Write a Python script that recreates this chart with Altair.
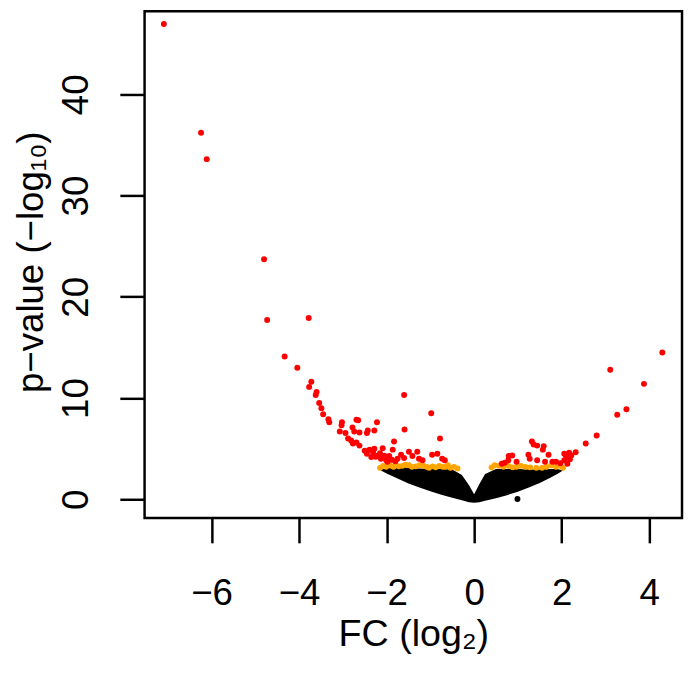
import altair as alt
import pandas as pd

# ---- data ----
# envelope of the dense black (non-significant) cloud
cloud_fc     = [-2.15, -2.0, -1.75, -1.5, -1.25, -1.0, -0.75, -0.5, -0.28, -0.12, 0.0, 0.12, 0.25, 0.5, 0.75, 1.0, 1.25, 1.5, 1.75, 1.9, 2.03]
cloud_top    = [2.9, 3.1, 3.15, 3.1, 3.05, 3.0, 3.0, 2.95, 2.4, 1.4, 0.5, 1.5, 2.5, 3.0, 3.0, 3.0, 2.95, 2.95, 3.0, 3.0, 2.85]
cloud_bottom = [2.9, 2.55, 2.05, 1.55, 1.15, 0.8, 0.45, 0.15, -0.1, -0.3, -0.35, -0.3, -0.15, 0.1, 0.4, 0.75, 1.15, 1.6, 2.15, 2.5, 2.85]

black_fc = [0.99]
black_p  = [0.03]

orange_fc = [-2.15, -2.08, -2.01, -1.95, -1.90, -1.84, -1.79, -1.72, -1.64, -1.57, -1.49, -1.42, -1.33,
             -1.25, -1.15, -1.08, -1.03, -0.95, -0.88, -0.80, -0.72, -0.66, -0.60, -0.54, -0.46, -0.38,
             0.40, 0.47, 0.57, 0.67, 0.78, 0.88, 0.97, 1.07, 1.17, 1.28, 1.42, 1.55, 1.65, 1.76, 1.87, 1.97, 2.03]
orange_p  = [3.1, 3.3, 3.2, 3.4, 3.3, 3.2, 3.35, 3.25, 3.3, 3.4, 3.35, 3.2, 3.25,
             3.35, 3.3, 3.2, 3.1, 3.25, 3.15, 3.3, 3.2, 3.2, 3.35, 3.1, 3.2, 3.05,
             3.15, 3.35, 3.3, 3.2, 3.3, 3.15, 3.2, 3.3, 3.2, 3.15, 3.1, 3.1, 3.2, 3.35, 3.2, 3.3, 3.1]

red_fc = [-7.09, -6.24, -6.11, -4.80, -4.73, -3.78, -4.33, -4.04, -3.72, -3.77, -3.60, -3.62, -3.54, -3.49,
          -3.45, -3.33, -3.31, -1.60, -0.98, -3.02, -3.03, -2.69, -2.65, -2.22, -2.78, -2.74, -3.07, -2.94,
          -2.62, -2.43, -2.28, -2.45, -1.59, -2.88, -2.81, -2.69, -2.77, -2.62, -0.78, -1.83, -1.86, -2.50,
          -2.39, -2.31, -2.28, -2.09, -2.20, -2.35, -2.13, -2.01, -1.94, -1.67, -1.49, -1.30, -1.41, -1.60,
          -1.26, -1.18, -0.96, -0.84, -0.73, -0.67, -1.75, -2.45, -2.25, -2.15, -2.05, -1.98, -1.88, -1.80,
          4.30, 3.11, 3.88, 3.48, 3.27, 2.80, 2.55, 1.32, 1.36, 1.44, 1.59, 1.57, 1.70, 1.24, 1.27, 0.79,
          0.87, 0.78, 0.63, 0.70, 0.97, 1.44, 1.62, 1.79, 2.06, 2.10, 2.17, 2.22, 2.32, 2.19, 2.06, 2.13,
          1.97, 1.87]
red_p  = [46.95, 36.2, 33.6, 23.7, 17.7, 17.9, 14.1, 13.0, 11.6, 11.1, 10.6, 10.3, 9.5, 9.0,
          8.4, 7.9, 7.6, 10.3, 8.5, 7.6, 7.3, 7.85, 7.8, 7.6, 7.1, 6.7, 6.7, 6.55,
          6.6, 6.8, 6.8, 6.55, 6.9, 6.0, 5.8, 5.6, 5.5, 5.3, 6.0, 5.7, 4.9, 4.8,
          4.9, 4.65, 5.0, 5.05, 4.33, 4.17, 4.0, 3.85, 4.27, 4.4, 4.7, 4.7, 4.27, 4.07,
          4.0, 3.85, 4.4, 4.5, 4.0, 3.85, 4.0, 4.5, 4.2, 4.55, 4.3, 3.7, 3.9, 3.75,
          14.5, 12.8, 11.4, 8.9, 8.35, 6.3, 5.5, 5.7, 5.4, 5.3, 5.25, 4.9, 4.4, 4.4, 4.0, 4.27,
          4.33, 3.85, 3.5, 3.6, 3.7, 3.85, 3.7, 3.7, 4.5, 4.27, 4.6, 4.33, 4.65, 3.94, 3.85, 3.5,
          3.55, 3.7]

x_ticks = [-6, -4, -2, 0, 2, 4]
y_ticks = [0, 10, 20, 30, 40]
x_domain = [-7.53, 4.75]
y_domain = [-1.86, 48.2]

FONT = "Liberation Sans"

cloud_df = pd.DataFrame({"fc": cloud_fc, "top": cloud_top, "bottom": cloud_bottom})
black_df = pd.DataFrame({"fc": black_fc, "p": black_p})
orange_df = pd.DataFrame({"fc": orange_fc, "p": orange_p})
red_df = pd.DataFrame({"fc": red_fc, "p": red_p})

x_enc = alt.X("fc:Q", scale=alt.Scale(domain=x_domain, nice=False, zero=False),
              axis=alt.Axis(values=x_ticks, title="FC (log₂)", grid=False, domain=False,
                            tickSize=25, tickWidth=2.5, tickColor="black",
                            labelFontSize=37, labelFont=FONT, labelColor="black",
                            labelBaseline="alphabetic", labelPadding=62, labelFlush=False,
                            labelOverlap=False,
                            titleFontSize=38, titleFont=FONT, titleFontWeight="normal",
                            titleColor="black", titleBaseline="alphabetic",
                            titleX=271.5, titleY=129))
y_enc = alt.Y("top:Q", scale=alt.Scale(domain=y_domain, nice=False, zero=False),
              axis=alt.Axis(values=y_ticks, title="p−value (−log₁₀)", grid=False, domain=False,
                            tickSize=25, tickWidth=2.5, tickColor="black",
                            labelFontSize=37, labelFont=FONT, labelColor="black",
                            labelAngle=-90, labelAlign="center", labelBaseline="alphabetic",
                            labelPadding=33, labelFlush=False, labelOverlap=False,
                            titleFontSize=37, titleFont=FONT, titleFontWeight="normal",
                            titleColor="black", titleAngle=270, titleAlign="center",
                            titleBaseline="alphabetic", titleX=-103, titleY=253))

cloud = alt.Chart(cloud_df).mark_area(color="black", opacity=1).encode(
    x=x_enc, y=y_enc, y2="bottom:Q")

def pts(df, color):
    return alt.Chart(df).mark_circle(color=color, size=36, opacity=1).encode(
        x=alt.X("fc:Q"), y=alt.Y("p:Q"))

chart = alt.layer(
    cloud,
    pts(black_df, "black"),
    pts(orange_df, "#FFA500"),
    pts(red_df, "#FF0000"),
).properties(
    width=543, height=512,
    autosize=alt.AutoSizeParams(type="none"),
    padding={"left": 138, "top": 0, "right": 2, "bottom": 138},
    background="white",
).configure_view(stroke="black", strokeWidth=2.5)

chart.save("out.html", embed_options={"renderer": "svg", "actions": False})
